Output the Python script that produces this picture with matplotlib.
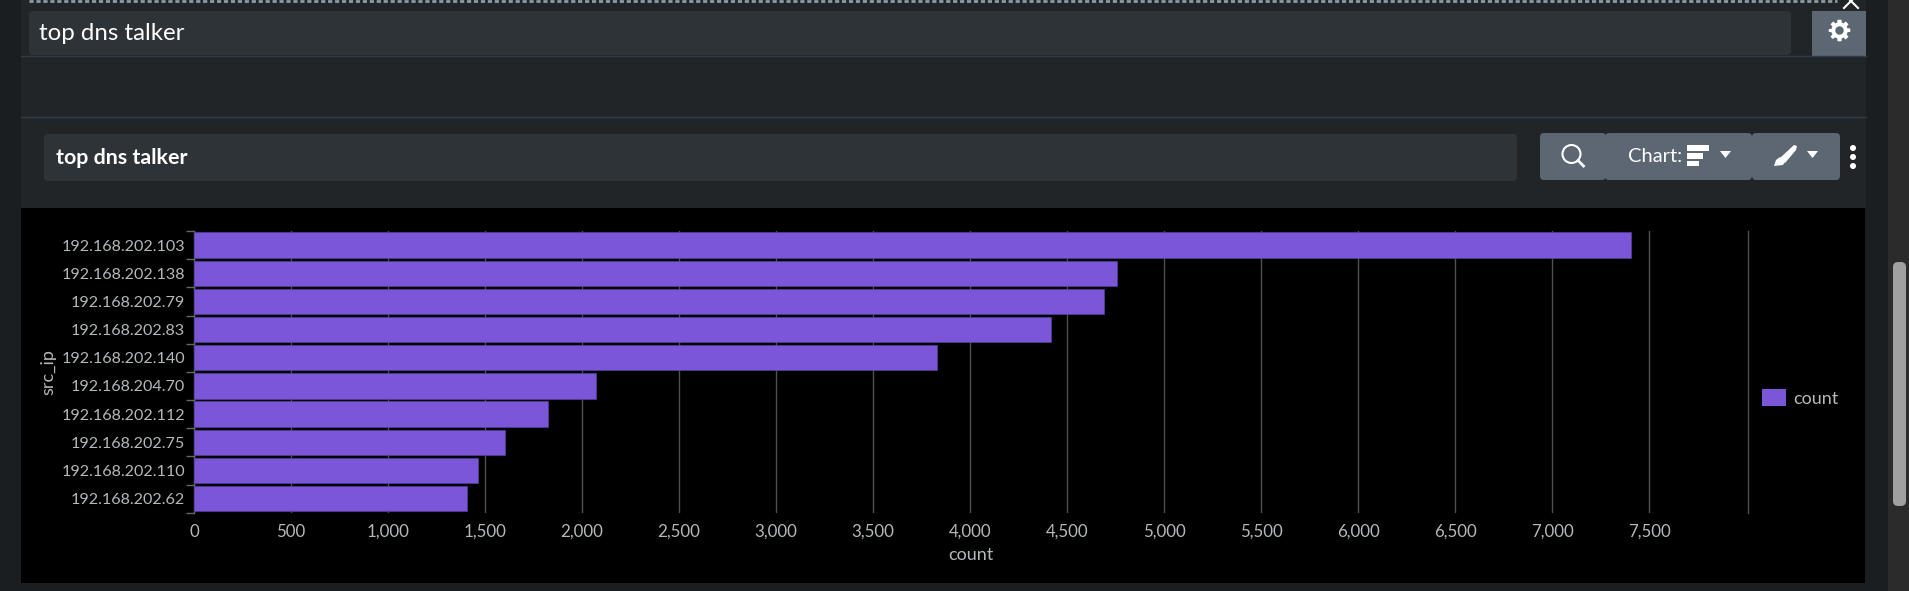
import numpy as np
import matplotlib
matplotlib.use("Agg")
import matplotlib.pyplot as plt
from matplotlib.patches import Rectangle, FancyBboxPatch, Polygon, Circle, Patch
from matplotlib.ticker import FuncFormatter

src_ips = ["192.168.202.103", "192.168.202.138", "192.168.202.79", "192.168.202.83",
           "192.168.202.140", "192.168.204.70", "192.168.202.112", "192.168.202.75",
           "192.168.202.110", "192.168.202.62"]
counts = [7405, 4755, 4692, 4415, 3828, 2072, 1825, 1602, 1462, 1405]
x_ticks = list(range(0, 8000, 500))
panel_title = "top dns talker"

W, H = 1909, 591
BAR = "#7b56d8"
TXT = "#b4b8bb"
GRID = "#505050"
plt.rcParams["font.family"] = ["Lato", "DejaVu Sans"]

fig = plt.figure(figsize=(W / 100, H / 100), dpi=100, facecolor="#1a1e21")

# Dashboard chrome, laid out in screen pixels on a full-figure canvas
ui = fig.add_axes([0, 0, 1, 1], zorder=0)
ui.set_xlim(0, W)
ui.set_ylim(H, 0)
ui.axis("off")


def rect(x0, y0, x1, y1, color, **kw):
    ui.add_patch(Rectangle((x0, y0), x1 - x0, y1 - y0, fc=color, ec="none", **kw))


def rounded(x0, y0, x1, y1, color, r=4):
    ui.add_patch(FancyBboxPatch((x0 + r, y0 + r), x1 - x0 - 2 * r, y1 - y0 - 2 * r,
                                boxstyle=f"round,pad={r},rounding_size={r}",
                                fc=color, ec="none", mutation_aspect=1))


rect(21, 0, 1866, 208, "#212527")
rect(1888, 0, W, H, "#2b2b2b")
rounded(1893, 262, 1906, 506, "#a0a0a0", r=5)
rect(21, 208, 1865, 583, "#000000")

# Dotted drag strip along the top edge
ui.plot([29, 1837], [1.2, 1.2], color="#8e9aa6", lw=2.0, dashes=(1.5, 1.0), solid_capstyle="butt")

# Close mark, cut off by the top of the window
ui.plot([1844, 1858], [-6, 8], color="white", lw=1.5)
ui.plot([1858, 1844], [-6, 8], color="white", lw=1.5)

# Title input row
rounded(29, 11, 1791, 55, "#2d3337")
ui.plot([21, 1866], [56.3, 56.3], color="#2f3c49", lw=1)
ui.plot([21, 1866], [117.3, 117.3], color="#2f3c49", lw=1)
rect(1812, 11, 1866, 56, "#5c6773")
ui.text(39, 34, panel_title, color="white", fontsize=17.3, va="center", ha="left")

# Gear icon
cx, cy, ang = 1839.5, 30.5, np.linspace(0, 2 * np.pi, 97)[:-1]
rad = 10.8 - 2.6 * (np.floor((ang / (2 * np.pi) * 8 + 0.25) % 1 * 2) % 2)
ui.add_patch(Polygon(np.c_[cx + rad * np.cos(ang), cy + rad * np.sin(ang)], fc="white", ec="none"))
ui.add_patch(Circle((cx, cy), 4.2, fc="#5c6773", ec="none"))

# Panel title row
rounded(44, 134, 1517, 181, "#2d3337")
ui.text(56.5, 158.5, panel_title, color="white", fontsize=15.4, fontweight="bold", va="center", ha="left")

# Toolbar buttons
rounded(1540, 133, 1606, 180, "#5c6773")
rounded(1605, 133, 1752, 180, "#5c6773")
rounded(1752, 133, 1840, 180, "#5c6773")
ui.add_patch(Circle((1571.5, 154), 9, fc="none", ec="white", lw=1.5))
ui.plot([1578, 1583.5], [160.5, 166], color="white", lw=2)
ui.text(1628, 156, "Chart:", color="white", fontsize=14.5, va="center", ha="left")
rect(1687, 145, 1709, 151, "white")
rect(1687, 153, 1703, 159, "white")
rect(1687, 160.5, 1699, 166, "white")
ui.add_patch(Polygon([[1720, 151], [1731, 151], [1725.5, 158]], fc="white", ec="none"))
ui.add_patch(Polygon([[1807, 151], [1818, 151], [1812.5, 158]], fc="white", ec="none"))
ui.add_patch(Polygon([[1794, 145], [1797, 146], [1796, 150], [1785, 163], [1780, 158]], fc="white", ec="none"))
ui.add_patch(Polygon([[1774, 166], [1776, 160], [1780, 157], [1785, 162], [1783, 165]], fc="white", ec="none"))
for dot_y in (148, 157, 166):
    ui.add_patch(Circle((1853, dot_y), 3, fc="white", ec="none"))

# Bar chart
x0, x1, y0, y1 = 194.0, 1748.3, 231.0, 512.7
ax = fig.add_axes([x0 / W, 1 - y1 / H, (x1 - x0) / W, (y1 - y0) / H], zorder=1, facecolor="#000000")
positions = np.arange(len(src_ips)) + 0.5
ax.barh(positions, counts, height=0.9, color=BAR, edgecolor="#54409a", linewidth=0.5,
        zorder=3, label="count")
ax.set_xlim(0, 8011)
ax.set_ylim(len(src_ips), 0)

ax.set_xticks(x_ticks)
ax.xaxis.set_major_formatter(FuncFormatter(lambda v, _: f"{int(v):,}"))
ax.tick_params(axis="x", length=0, pad=8, labelcolor=TXT, labelsize=12.2)
ax.grid(axis="x", color=GRID, lw=1.0, zorder=1)

ax.set_yticks(np.arange(len(src_ips) + 1))
ax.set_yticklabels([])
ax.set_yticks(positions, labels=src_ips, minor=True)
ax.tick_params(axis="y", which="major", length=6, width=1, color="#666666")
ax.tick_params(axis="y", which="minor", length=0, pad=6.5, labelcolor=TXT, labelsize=11.6)

for side in ("top", "bottom"):
    ax.spines[side].set_visible(False)
ax.spines["left"].set_color("#666666")
ax.spines["right"].set_color(GRID)
for side in ("left", "right"):
    ax.spines[side].set_linewidth(1.0)

ax.set_xlabel("count", color=TXT, fontsize=13, labelpad=5.5)
ax.set_ylabel("src_ip", color=TXT, fontsize=13, va="center")
ax.yaxis.set_label_coords((48.5 - x0) / (x1 - x0), 0.5)

fig.legend(handles=[Patch(fc=BAR, ec="none", label="count")], loc="center left",
           bbox_to_anchor=(1757 / W, 1 - 398 / H), frameon=False, fontsize=13,
           labelcolor=TXT, handlelength=1.3, handleheight=1.0, handletextpad=0.4,
           borderpad=0, borderaxespad=0.3)

fig.savefig("out.png", dpi=100, facecolor=fig.get_facecolor())
